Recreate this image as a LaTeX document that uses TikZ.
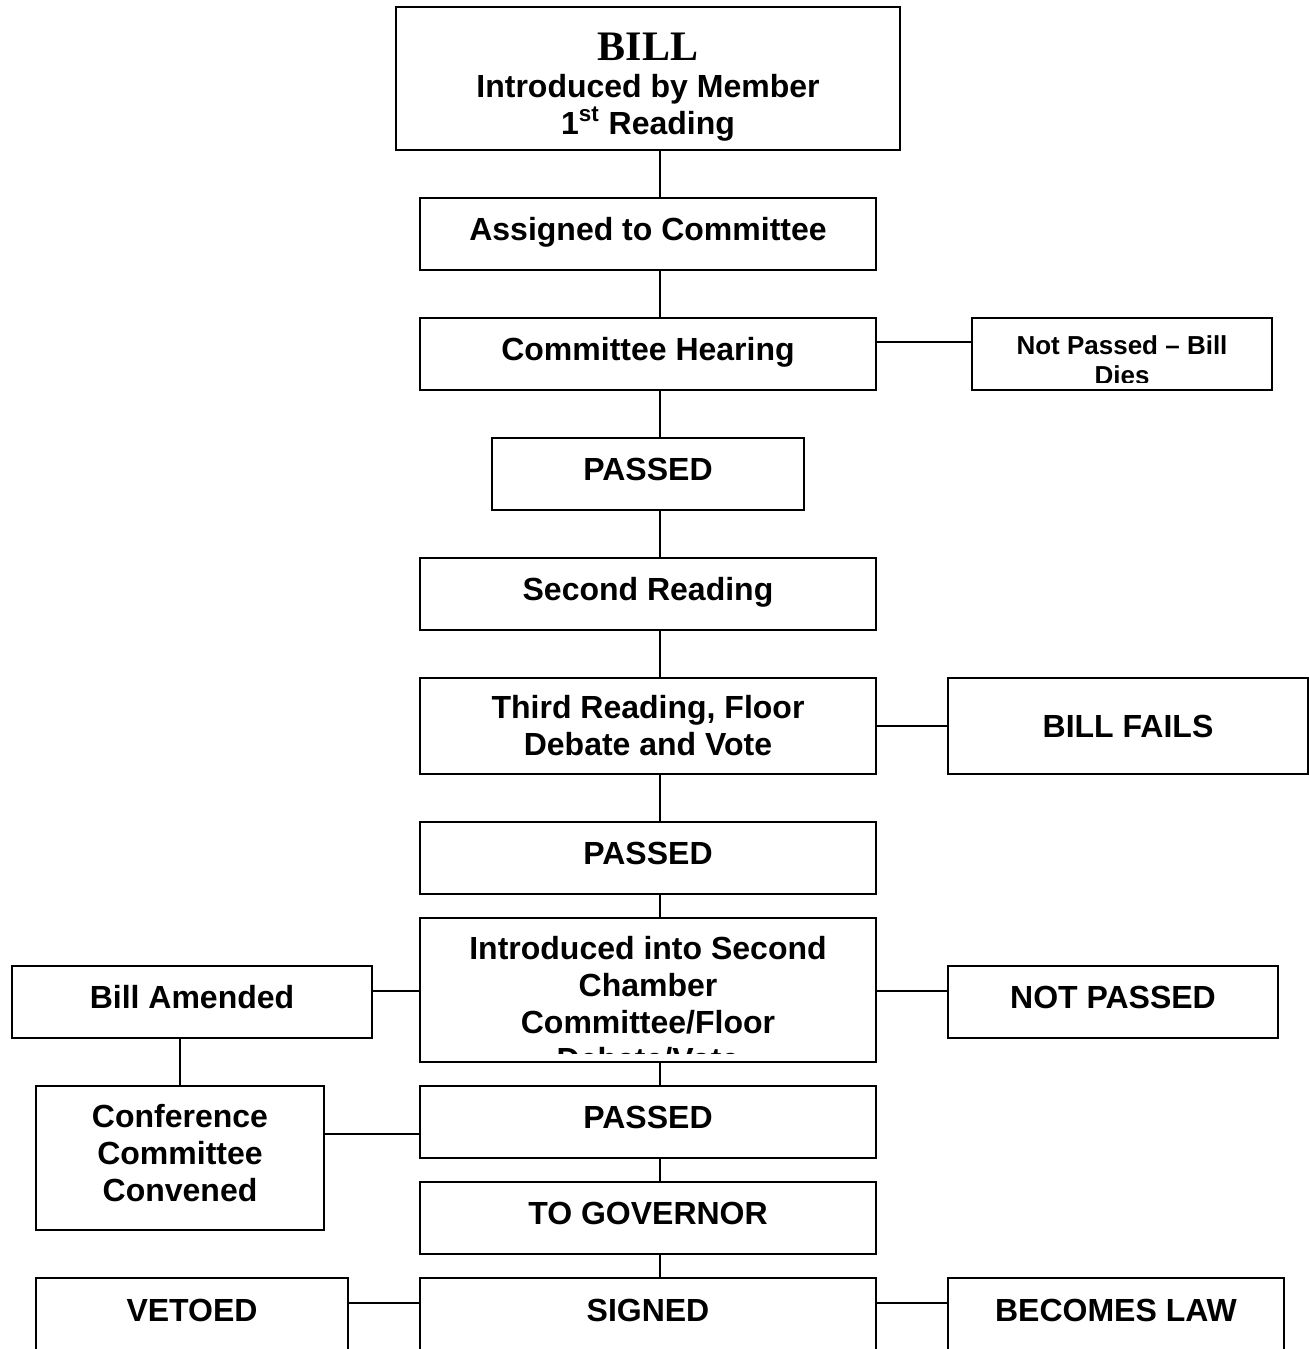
\documentclass[tikz,border=0pt]{standalone}
\usepackage{fontspec}
\setmainfont{Liberation Sans}
\newfontfamily\billfont{Liberation Serif}
\usepackage{tikz}

\begin{document}
\begin{tikzpicture}[x=0.5pt,y=-0.5pt,line cap=round,line join=miter,
    box/.style={draw,line width=1.1pt,rectangle,inner sep=0pt,align=center,
      font=\fontsize{16}{18.5}\selectfont\bfseries},
    one/.style={text height=11.5pt,text depth=5pt},
    small/.style={font=\fontsize{13}{15}\selectfont\bfseries,align=center},
    link/.style={line width=0.8pt}]
  \clip (0,0) rectangle (1309,1349);
  \coordinate (spine) at (660,0);
  % main column
  \node[box,minimum width=252pt,minimum height=71.5pt] (bill) at (648,78.5)
    {\rule{0pt}{22pt}{\billfont\fontsize{21}{21}\selectfont BILL}\\Introduced by Member\\1\textsuperscript{st} Reading};
  \node[box,one,minimum width=228pt,minimum height=36pt] (assign) at (648,234) {Assigned to Committee};
  \node[box,one,minimum width=228pt,minimum height=36pt] (hearing) at (648,354) {Committee Hearing};
  \node[box,one,minimum width=156pt,minimum height=36pt] (passedA) at (648,474) {PASSED};
  \node[box,one,minimum width=228pt,minimum height=36pt] (second) at (648,594) {Second Reading};
  \node[box,minimum width=228pt,minimum height=48pt] (third) at (648,726) {Third Reading, Floor\\Debate and Vote};
  \node[box,one,minimum width=228pt,minimum height=36pt] (passedB) at (648,858) {PASSED};
  \node[box,minimum width=228pt,minimum height=72pt] (intro) at (648,990) {};
  \node[box,one,minimum width=228pt,minimum height=36pt] (passedC) at (648,1122) {PASSED};
  \node[box,one,minimum width=228pt,minimum height=36pt] (governor) at (648,1218) {TO GOVERNOR};
  \node[box,one,minimum width=228pt,minimum height=37pt] (signed) at (648,1315) {SIGNED};
  % side boxes
  \node[box,minimum width=150pt,minimum height=36pt] (dies) at (1122,354) {};
  \node[box,minimum width=180pt,minimum height=48pt] (fails) at (1128,726) {BILL FAILS};
  \node[box,one,minimum width=180pt,minimum height=36pt] (amended) at (192,1002) {Bill Amended};
  \node[box,one,minimum width=165pt,minimum height=36pt] (notpassed) at (1113,1002) {NOT PASSED};
  \node[box,minimum width=144pt,minimum height=72pt] (conf) at (180,1158)
    {Conference\\Committee\\Convened\rule[-5pt]{0pt}{5pt}};
  \node[box,one,minimum width=156pt,minimum height=37pt] (vetoed) at (192,1315) {VETOED};
  \node[box,one,minimum width=168pt,minimum height=37pt] (law) at (1116,1315) {BECOMES LAW};
  % texts cut off by their boxes
  \begin{scope}
    \clip (972,318) rectangle (1272,382);
    \node[small] (diestext) at (1122,360) {Not Passed – Bill\\Dies};
  \end{scope}
  \begin{scope}
    \clip (420,918) rectangle (876,1053);
    \node[box,draw=none] (introtext) at (648,1003.5)
      {Introduced into Second\\Chamber\\Committee/Floor\\Debate/Vote};
  \end{scope}
  % connectors
  \draw[link] (bill.south -| spine) -- (assign.north -| spine);
  \draw[link] (assign.south -| spine) -- (hearing.north -| spine);
  \draw[link] (hearing.south -| spine) -- (passedA.north -| spine);
  \draw[link] (passedA.south -| spine) -- (second.north -| spine);
  \draw[link] (second.south -| spine) -- (third.north -| spine);
  \draw[link] (third.south -| spine) -- (passedB.north -| spine);
  \draw[link] (passedB.south -| spine) -- (intro.north -| spine);
  \draw[link] (intro.south -| spine) -- (passedC.north -| spine);
  \draw[link] (passedC.south -| spine) -- (governor.north -| spine);
  \draw[link] (governor.south -| spine) -- (signed.north -| spine);
  \draw[link] ([yshift=6pt]hearing.east) -- ([yshift=6pt]dies.west);
  \draw[link] (third.east) -- (fails.west);
  \draw[link] ([yshift=5.5pt]amended.east) -- ([yshift=5.5pt]amended.east -| intro.west);
  \draw[link] ([yshift=5.5pt]notpassed.west -| intro.east) -- ([yshift=5.5pt]notpassed.west);
  \draw[link] (conf.north) -- (conf.north |- amended.south);
  \draw[link] ([yshift=12pt]conf.east) -- ([yshift=12pt]conf.east -| passedC.west);
  \draw[link] ([yshift=6pt]vetoed.east) -- ([yshift=6pt]signed.west);
  \draw[link] ([yshift=6pt]signed.east) -- ([yshift=6pt]law.west);
\end{tikzpicture}
\end{document}
